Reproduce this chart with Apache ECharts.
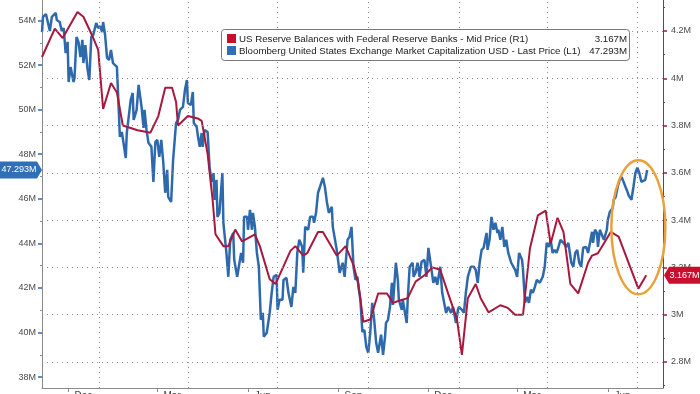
<!DOCTYPE html>
<html><head><meta charset="utf-8">
<script src="https://cdn.jsdelivr.net/npm/echarts@6/dist/echarts.min.js"></script>
<style>html,body{margin:0;padding:0;background:#fff}#c{width:700px;height:394px}</style>
</head><body><div id="c"></div>
<script>
// x = days since 2021-11-01
const blueDays = [
3,4,7,9,11,13,15,17,18,21,
23,25,27,29,30,32,35,36,38,40,
42,44,45,47,49,51,53,55,58,60,
62,64,65,67,69,71,73,75,77,79,
80,82,84,85,88,89,91,93,95,96,
99,101,104,106,107,109,111,114,116,118,
120,122,124,126,128,130,131,134,136,139,
141,143,146,148,150,151,154,156,157,160,
161,163,165,166,168,171,173,175,177,178,
180,181,183,186,187,190,192,194,197,198,
201,203,205,207,208,211,212,214,216,217,
219,221,223,225,227,228,231,232,234,236,
238,241,242,244,247,248,251,253,256,258,
260,262,264,267,268,270,273,275,278,279,
281,283,285,288,290,292,294,297,298,302,
305,308,310,313,315,317,319,321,323,324,
326,328,330,332,334,336,338,340,342,344,
347,349,351,352,354,356,358,359,362,364,
365,368,369,373,374,376,379,380,382,384,
386,388,391,393,395,397,400,402,404,407,
409,411,413,415,418,420,423,425,426,429,
431,433,435,438,441,443,445,447,449,451,
452,454,455,457,459,461,463,465,466,468,
470,472,474,476,479,481,483,485,487,490,
491,493,495,497,499,501,503,505,508,511,
513,515,517,519,521,523,525,527,529,532,
535,537,540,542,544,546,548,550,552,555,
557,561,562,564,566,567,569,571,573,576,
577,579,582,583,585,587,589,591,593,595,
597,598,601,603,605,607,609,611,613,615,
617];
const blueValues = [
53.48,54.16,54.29,54.25,53.53,54.16,54.25,54.34,54.02,53.93,
53.53,53.66,52.54,53.04,51.24,51.91,51.24,51.42,53.26,53.04,
52.36,53.13,52.09,52.90,51.87,51.33,53.26,53.35,53.89,53.66,
53.75,53.48,53.93,53.35,52.32,52.23,52.68,52.09,52.14,51.92,
50.88,48.78,49.00,48.95,47.83,48.95,49.00,50.44,50.75,49.54,
49.99,51.11,50.12,49.18,49.99,49.09,48.51,48.33,46.76,48.55,
48.64,47.88,48.64,47.65,46.27,47.30,46.09,45.86,47.74,49.40,
49.54,49.99,50.12,50.88,51.33,50.30,50.21,50.79,49.40,49.22,
48.86,48.33,48.95,48.33,49.09,49.00,47.43,46.76,47.16,45.95,
46.85,45.19,45.37,47.16,44.92,43.62,42.50,44.16,44.47,43.26,
42.50,42.50,43.57,43.13,45.19,45.19,44.61,45.50,44.61,45.37,
44.74,43.57,42.95,40.57,40.88,39.81,39.99,39.99,40.88,41.78,
42.50,42.59,41.02,41.47,41.47,42.36,42.45,41.78,41.15,42.05,
41.78,43.57,44.16,43.84,42.68,44.74,44.61,45.19,45.19,44.92,
45.37,46.27,46.53,46.94,46.53,45.86,45.37,45.64,44.74,43.71,
42.68,43.13,42.50,44.16,44.29,44.74,42.95,42.36,42.50,42.05,
41.47,40.03,40.12,39.36,39.09,39.99,41.33,40.57,39.54,39.09,
39.90,39.00,39.81,40.43,40.57,41.15,42.23,41.24,43.13,42.36,
41.47,41.02,41.47,40.43,41.47,42.95,43.13,42.50,42.68,43.13,
42.50,43.17,43.26,42.50,43.80,43.84,42.23,42.50,42.14,42.95,
41.78,41.33,40.88,41.15,40.88,41.15,40.43,41.02,41.15,41.02,
40.88,41.78,42.50,42.95,42.95,42.81,42.23,43.13,43.71,43.80,
43.84,44.47,43.71,44.16,45.19,44.61,44.92,44.47,44.61,44.16,
44.74,43.84,44.16,43.57,43.13,43.13,42.81,42.50,43.57,43.26,
42.81,41.33,41.60,41.33,41.92,41.78,42.05,42.36,42.23,42.50,
42.95,44.02,43.84,44.16,43.57,43.71,43.57,43.84,44.16,44.02,
43.84,44.02,43.13,42.95,43.57,43.71,43.13,42.95,43.80,43.84,
43.57,44.52,44.02,44.61,44.47,43.84,44.61,44.61,44.16,44.61,
45.05,45.41,45.59,45.95,46.08,46.53,46.85,46.98,46.76,46.53,
46.31,46.17,45.95,46.53,47.16,47.39,47.16,46.76,46.76,46.85,
47.293];
const redDays = [
3,16,24,39,45,54,60,65,73,79,
85,100,113,121,128,135,139,141,151,161,
165,171,176,179,187,192,199,206,219,224,
234,240,255,260,268,272,283,288,295,302,
311,319,324,329,336,344,353,359,366,374,
382,392,399,407,415,424,429,435,443,448,
456,468,475,483,491,498,506,514,519,526,
532,539,547,557,561,567,580,588,608,616];
const redValues = [
4.09,4.21,4.17,4.28,4.26,4.18,4.12,3.87,3.98,3.94,
3.80,3.78,3.77,3.84,3.96,3.96,3.90,3.80,3.84,3.83,
3.82,3.68,3.49,3.34,3.29,3.29,3.36,3.31,3.34,3.29,
3.15,3.13,3.27,3.29,3.25,3.26,3.35,3.35,3.30,3.25,
3.29,3.21,3.13,2.97,2.98,3.09,3.09,3.05,3.06,3.07,
3.14,3.17,3.20,3.19,3.09,2.98,2.83,3.07,3.13,3.07,
3.01,3.04,3.03,3.00,3.00,3.28,3.42,3.44,3.30,3.41,
3.35,3.13,3.09,3.22,3.25,3.26,3.35,3.33,3.11,3.167];

const leftTicks = [38,40,42,44,46,48,50,52,54];
const leftMinorTicks = [39,41,43,45,47,49,51,53];
const rightTicks = [2.8,3,3.2,3.4,3.6,3.8,4,4.2];
const rightMinorTicks = [2.7,2.9,3.1,3.3,3.5,3.7,3.9,4.1,4.3];
const quarterStartDays = [61,151,242,334,426,516,607];
const monthTickDays = [30,120,212,304,395,485,577];
const monthLabelDays = [45,135,227,319,410,500,592];
const monthLabels = ['Dec','Mar','Jun','Sep','Dec','Mar','Jun'];
const redName = 'US Reserve Balances with Federal Reserve Banks - Mid Price (R1)';
const blueName = 'Bloomberg United States Exchange Market Capitalization USD - Last Price (L1)';
const xRange = [3, 633];
const leftRange = [37.51, 54.92];
const rightRange = [2.69, 4.331];

const BLUE = '#2f69ad', RED = '#a8183c', MAROON = '#8c3050';
const FONT = 'Liberation Sans, Arial, sans-serif';
const fmtM = v => (+v.toFixed(3)) + 'M';

const chart = echarts.init(document.getElementById('c'), null, {renderer: 'canvas'});
const hiddenAxisBits = {axisLine:{show:false}, axisLabel:{show:false}, splitLine:{show:false}};
chart.setOption({
  animation: false,
  grid: {left: 42, right: 37, top: 0, bottom: 6, containLabel: false, outerBoundsMode: 'none'},
  xAxis: {
    type: 'value', min: xRange[0], max: xRange[1],
    axisLine: {show: true, lineStyle: {color: '#8a8a8a', width: 1}},
    axisTick: {show: true, customValues: monthTickDays, length: 4, lineStyle: {color: '#8a8a8a'}},
    axisLabel: {show: true, customValues: monthLabelDays, margin: 3, fontSize: 10, fontFamily: FONT, color: '#444',
      formatter: v => monthLabels[monthLabelDays.indexOf(Math.round(v))] || ''},
    splitLine: {show: false}
  },
  yAxis: [
    {type: 'value', position: 'left', min: leftRange[0], max: leftRange[1],
      axisLine: {show: true, lineStyle: {color: '#8a8a8a'}},
      axisTick: {show: true, customValues: leftTicks, length: 4, lineStyle: {color: BLUE, width: 1.5}},
      axisLabel: {show: true, customValues: leftTicks, formatter: fmtM, margin: 6, fontSize: 9, fontFamily: FONT, color: '#4a4a4a'},
      splitLine: {show: false}},
    {type: 'value', position: 'right', min: rightRange[0], max: rightRange[1],
      axisLine: {show: true, lineStyle: {color: MAROON}},
      axisTick: {show: true, customValues: rightTicks, length: 4, lineStyle: {color: RED, width: 1.5}},
      axisLabel: {show: true, customValues: rightTicks, formatter: fmtM, margin: 8, fontSize: 9, fontFamily: FONT, color: '#4a4a4a'},
      splitLine: {show: false}},
    Object.assign({type: 'value', position: 'left', min: leftRange[0], max: leftRange[1],
      axisTick: {show: true, customValues: leftMinorTicks, length: 2, lineStyle: {color: '#7f95b5'}}}, hiddenAxisBits),
    Object.assign({type: 'value', position: 'right', min: rightRange[0], max: rightRange[1],
      axisTick: {show: true, customValues: rightMinorTicks, length: 2, lineStyle: {color: MAROON}}}, hiddenAxisBits)
  ],
  series: [
    {type: 'line', name: 'grid', yAxisIndex: 1, data: [], z: 1, silent: true,
      markLine: {silent: true, symbol: ['none','none'], label: {show: false}, animation: false,
        lineStyle: {type: [1,4], color: '#8e8e8e', width: 1},
        data: rightTicks.map(v => ({yAxis: v})).concat(quarterStartDays.map(d => ({xAxis: d})))}},
    {type: 'line', name: blueName, yAxisIndex: 0, z: 2, showSymbol: false, symbol: 'none',
      lineStyle: {color: BLUE, width: 2.5}, data: blueDays.map((d, i) => [d, blueValues[i]])},
    {type: 'line', name: redName, yAxisIndex: 1, z: 3, showSymbol: false, symbol: 'none',
      lineStyle: {color: RED, width: 2}, data: redDays.map((d, i) => [d, redValues[i]])}
  ]
});

const xP = d => chart.convertToPixel({xAxisIndex: 0}, d);
const yL = v => chart.convertToPixel({yAxisIndex: 0}, v);
const yR = v => chart.convertToPixel({yAxisIndex: 1}, v);
const lastBlue = blueValues[blueValues.length - 1];
const lastRed = redValues[redValues.length - 1];
const gL = xP(xRange[0]), gR = xP(xRange[1]);
const by = yL(lastBlue), ry = yR(lastRed);
const cx = xP(608), cy = yR(3.37);
const LF = '9.7px ' + FONT;

chart.setOption({
  graphic: [
    // left value tag
    {type: 'polygon', shape: {points: [[0, by - 8.5], [gL - 5, by - 8.5], [gL, by], [gL - 5, by + 8.5], [0, by + 8.5]]},
      style: {fill: '#2f6fb7'}, z: 10},
    {type: 'text', x: (gL - 4) / 2, y: by, style: {text: fmtM(lastBlue), fill: '#fff', font: '9px ' + FONT, align: 'center', verticalAlign: 'middle'}, z: 11},
    // right value tag
    {type: 'polygon', shape: {points: [[gR + 1, ry], [gR + 6, ry - 8.5], [700, ry - 8.5], [700, ry + 8.5], [gR + 6, ry + 8.5]]},
      style: {fill: '#c8102e'}, z: 10},
    {type: 'text', x: (gR + 6 + 700) / 2, y: ry, style: {text: fmtM(lastRed), fill: '#fff', font: '9px ' + FONT, align: 'center', verticalAlign: 'middle'}, z: 11},
    // legend box
    {type: 'rect', shape: {x: 221.5, y: 29.5, width: 408, height: 31, r: 3}, style: {fill: '#fff', stroke: '#7a7a7a', lineWidth: 1}, z: 20},
    {type: 'rect', shape: {x: 227, y: 34, width: 9, height: 9}, style: {fill: '#c8102e'}, z: 21},
    {type: 'rect', shape: {x: 227, y: 46, width: 9, height: 9}, style: {fill: '#2f6fb7'}, z: 21},
    {type: 'text', x: 239, y: 39, style: {text: redName, fill: '#222', font: LF, verticalAlign: 'middle'}, z: 21},
    {type: 'text', x: 239, y: 51, style: {text: blueName, fill: '#222', font: LF, verticalAlign: 'middle'}, z: 21},
    {type: 'text', x: 627, y: 39, style: {text: fmtM(lastRed), fill: '#222', font: LF, align: 'right', verticalAlign: 'middle'}, z: 21},
    {type: 'text', x: 627, y: 51, style: {text: fmtM(lastBlue), fill: '#222', font: LF, align: 'right', verticalAlign: 'middle'}, z: 21},
    // highlight ellipse
    {type: 'ellipse', shape: {cx: cx, cy: cy, rx: 27, ry: 67}, style: {fill: 'none', stroke: '#e9a23b', lineWidth: 2.5}, z: 15}
  ]
});
</script>
</body></html>
